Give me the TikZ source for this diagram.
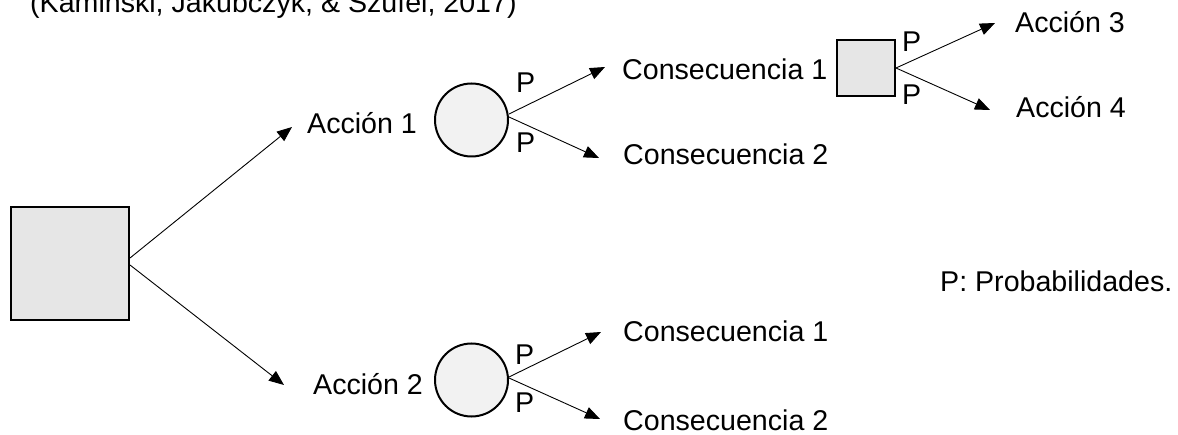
\documentclass[tikz,border=0pt]{standalone}
\usepackage{fontspec}
\setmainfont{Liberation Sans}
\usetikzlibrary{arrows.meta,calc}
\definecolor{boxfill}{HTML}{E6E6E6}
\definecolor{chancefill}{HTML}{F2F2F2}
\begin{document}
\begin{tikzpicture}[x=1pt,y=-1pt,
  every node/.style={font=\fontsize{28.6}{34}\selectfont},
  lbl/.style={anchor=base west,inner sep=0pt},
  decision/.style={draw,line width=2pt,fill=boxfill,inner sep=0pt},
  chance/.style={draw,circle,line width=2pt,fill=chancefill,inner sep=0pt,minimum size=73pt},
  branch/.style={line width=0.9pt,-{Triangle[length=15pt,width=12pt]}}]
\useasboundingbox (0,0) rectangle (1178,435);
\clip (0,0) rectangle (1178,435);

% reference line at the top
\node[lbl] (cite) at (30,13) {(Kaminski, Jakubczyk, \& Szufel, 2017)};

% decision and chance nodes
\node[decision,minimum width=118pt,minimum height=113pt] (root) at (70,263.5) {};
\node[chance] (ch1) at (471.5,120) {};
\node[chance] (ch2) at (471.5,380) {};
\node[decision,minimum width=58pt,minimum height=56pt] (sq) at (866,68) {};

% labels
\node[lbl] (acc1) at (307,134) {Acción 1};
\node[lbl] (acc2) at (313,395) {Acción 2};
\node[lbl] (c11) at (622,80) {Consecuencia 1};
\node[lbl] (c12) at (623,165) {Consecuencia 2};
\node[lbl] (c21) at (623,342) {Consecuencia 1};
\node[lbl] (c22) at (623,431) {Consecuencia 2};
\node[lbl] (acc3) at (1015,33) {Acción 3};
\node[lbl] (acc4) at (1016,118) {Acción 4};
\node[lbl] (legend) at (940,292) {P: Probabilidades.};

\node[lbl] (p11) at (516,93) {P};
\node[lbl] (p12) at (516,153) {P};
\node[lbl] (p21) at (515,365) {P};
\node[lbl] (p22) at (515,413) {P};
\node[lbl] (p31) at (902,52) {P};
\node[lbl] (p32) at (902,105) {P};

% arrow ends
\coordinate (t1) at (292,127);
\coordinate (t2) at (284,385);
\coordinate (t11) at (605,67);
\coordinate (t12) at (599,158);
\coordinate (t21) at (601,332);
\coordinate (t22) at (600,419);
\coordinate (t31) at (995,23);
\coordinate (t32) at (990,110);

% branches
\draw[branch] ($(root.east)+(0,-5.5)$) -- (t1);
\draw[branch] ($(root.east)+(0,1.5)$) -- (t2);
\draw[branch] ($(ch1.east)+(0,-6)$) -- (t11);
\draw[branch] ($(ch1.east)+(0,-3)$) -- (t12);
\draw[branch] ($(ch2.east)+(0,-3)$) -- (t21);
\draw[branch] ($(ch2.east)+(0,-2)$) -- (t22);
\draw[branch] (sq.east) -- (t31);
\draw[branch] (sq.east) -- (t32);
\end{tikzpicture}
\end{document}
